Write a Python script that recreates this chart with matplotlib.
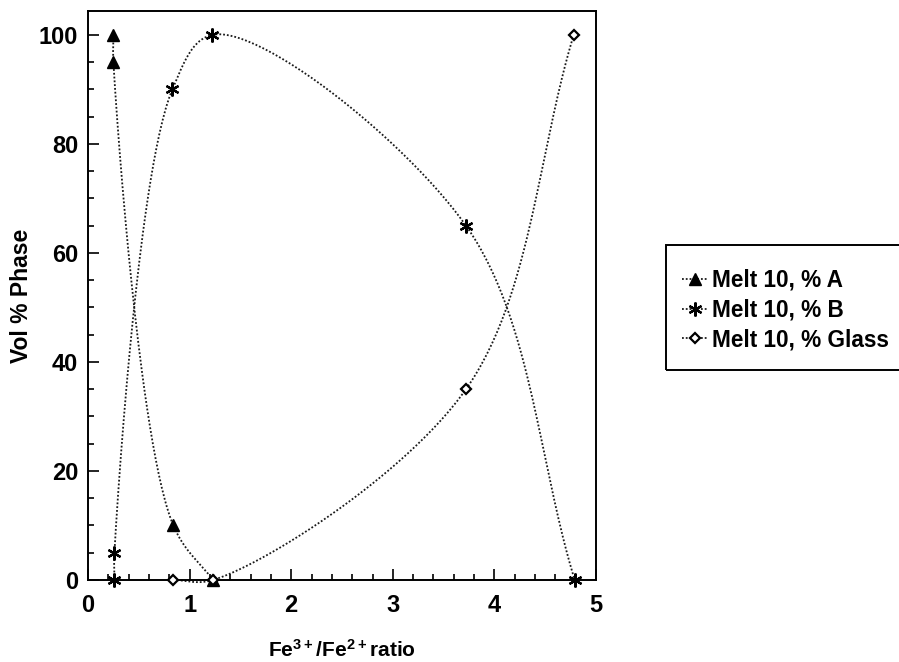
import numpy as np
import matplotlib
matplotlib.use("Agg")
import matplotlib.pyplot as plt
from matplotlib.lines import Line2D
from matplotlib.patches import Rectangle
from matplotlib.ticker import MultipleLocator

plt.rcParams['font.family'] = ['Liberation Sans', 'DejaVu Sans']
plt.rcParams['font.weight'] = 'bold'
plt.rcParams['mathtext.fontset'] = 'custom'
plt.rcParams['mathtext.rm'] = 'Liberation Sans:bold'
plt.rcParams['mathtext.default'] = 'regular'

# Fe3+/Fe2+ ratio vs. volume percent of each phase (Melt 10)
a_x = [0.25, 0.25, 0.84, 1.23]
a_y = [100, 95, 10, 0]

b_x = [0.26, 0.26, 0.83, 1.22, 3.72, 4.79]
b_y = [0, 5, 90, 100, 65, 0]

glass_x = [0.84, 1.23, 3.72, 4.78]
glass_y = [0, 0, 35, 100]

labels = ["Melt 10, % A", "Melt 10, % B", "Melt 10, % Glass"]


def catmull_rom(pts, alpha=0.55, num=60):
    """Catmull-Rom style Hermite curve through display-space points."""
    d = np.hypot(*np.diff(pts, axis=0).T)
    dt = d ** alpha
    n = len(pts)
    tang = np.zeros_like(pts)
    tang[0] = (pts[1] - pts[0]) / dt[0]
    tang[-1] = (pts[-1] - pts[-2]) / dt[-1]
    for i in range(1, n - 1):
        v0 = (pts[i] - pts[i - 1]) / dt[i - 1]
        v1 = (pts[i + 1] - pts[i]) / dt[i]
        w = dt[i - 1] + dt[i]
        tang[i] = v0 * dt[i] / w + v1 * dt[i - 1] / w
    s = np.linspace(0, 1, num)[:, None]
    h00 = 2 * s ** 3 - 3 * s ** 2 + 1
    h10 = s ** 3 - 2 * s ** 2 + s
    h01 = -2 * s ** 3 + 3 * s ** 2
    h11 = s ** 3 - s ** 2
    segs = []
    for i in range(n - 1):
        seg = (h00 * pts[i] + h10 * dt[i] * tang[i]
               + h01 * pts[i + 1] + h11 * dt[i] * tang[i + 1])
        segs.append(seg if i == 0 else seg[1:])
    return np.vstack(segs)


def smooth_curve(ax, xs, ys):
    # curve is built in display space, then mapped back to data coordinates
    pts = ax.transData.transform(np.column_stack([xs, ys]))
    curve = catmull_rom(pts)
    return ax.transData.inverted().transform(curve).T


fig = plt.figure(figsize=(8.99, 6.62), dpi=100)
ax = fig.add_axes([0.0979, 0.1239, 0.5651, 0.8595])
ax.set_xlim(0, 5)
ax.set_ylim(0, 104.4)

line_kw = dict(color='#1a1a1a', lw=1.3, linestyle=(0, (1, 1.1)))
styles = [
    dict(marker='^', markersize=8, markerfacecolor='black', markeredgecolor='black'),
    dict(marker=(6, 2, 0), markersize=10, markeredgewidth=1.6,
         markerfacecolor='black', markeredgecolor='black'),
    dict(marker='D', markersize=5, markerfacecolor='white',
         markeredgecolor='black', markeredgewidth=1.6),
]

series = [(a_x, a_y), (b_x, b_y), (glass_x, glass_y)]
for (xs, ys), st in zip(series, styles):
    cx, cy = smooth_curve(ax, xs, ys)
    ax.plot(cx, cy, **line_kw, clip_on=False, zorder=2)
    ax.plot(xs, ys, linestyle='none', clip_on=False, zorder=3, **st)

ax.xaxis.set_major_locator(MultipleLocator(1))
ax.xaxis.set_minor_locator(MultipleLocator(0.2))
ax.yaxis.set_major_locator(MultipleLocator(20))
ax.yaxis.set_minor_locator(MultipleLocator(5))
ax.tick_params(which='both', direction='in', top=False, right=False,
               width=1.2, labelsize=17)
ax.tick_params(axis='x', which='major', length=8, pad=10)
ax.tick_params(axis='y', which='major', length=8, pad=7)
ax.tick_params(which='minor', length=4)
for sp in ax.spines.values():
    sp.set_linewidth(1.4)

ax.set_xlabel(r'Fe$^{3+}$/Fe$^{2+}$ratio', fontsize=15, fontweight='bold', labelpad=16)
ax.set_ylabel('Vol % Phase', fontsize=16.5, fontweight='bold')
ax.yaxis.set_label_coords(-0.108, 0.5)

# legend entries, with an open-ended box running off the right edge
handles = [Line2D([0], [0], **line_kw, **st) for st in styles]
fig.legend(handles, labels, loc='upper left',
           bbox_to_anchor=(0.7586, 0.594), bbox_transform=fig.transFigure,
           fontsize=16.3, frameon=False, handlelength=1.15,
           handletextpad=0.18, labelspacing=0.3, borderpad=0,
           borderaxespad=0)
fig.patches.append(Rectangle((0.7408, 0.441), 0.30, 0.189,
                             transform=fig.transFigure, fill=False,
                             edgecolor='black', linewidth=1.4))

fig.savefig('out.png', dpi=100)
